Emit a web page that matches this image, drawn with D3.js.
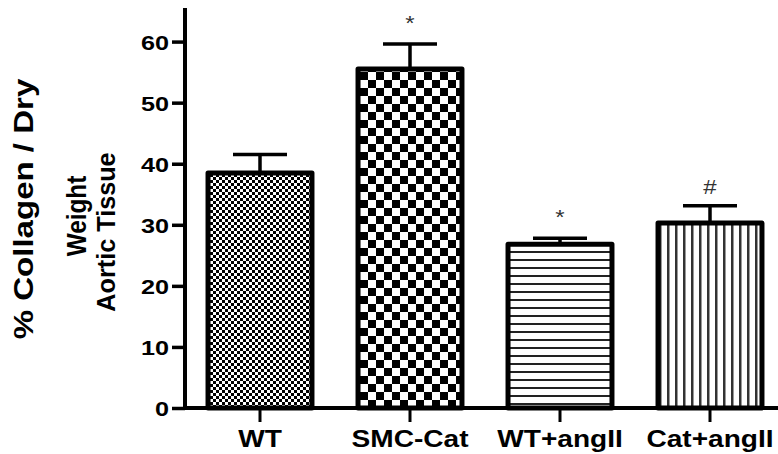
<!DOCTYPE html>
<html>
<head>
<meta charset="utf-8">
<script src="https://cdn.jsdelivr.net/npm/d3@7"></script>
<style>
	body { margin: 0; background: #fff; }
	svg { display: block; }
	text { font-family: "Liberation Sans", Arial, sans-serif; }
</style>
</head>
<body>
<svg id="chart" width="778" height="454"></svg>
<script>
"use strict";

// values
var groups = ["WT", "SMC-Cat", "WT+angII", "Cat+angII"];
var means  = [38.5, 55.5, 26.8, 30.3];
var errs   = [3.0, 4.1, 1.0, 2.8];
var marks  = ["", "*", "*", "#"];
var fills  = ["url(#fineCheck)", "url(#bigCheck)", "url(#hLines)", "url(#vLines)"];
var yTicks = [0, 10, 20, 30, 40, 50, 60];
var yLabel = ["% Collagen / Dry", "Weight", "Aortic Tissue"];

var svg = d3.select("#chart");

// patterns for the bars
var defs = svg.append("defs");
function checker(id, cell) {
	let p = defs.append("pattern")
		.attr("id", id)
		.attr("patternUnits", "userSpaceOnUse")
		.attr("width", cell * 2)
		.attr("height", cell * 2);
	p.append("rect").attr("width", cell * 2).attr("height", cell * 2).attr("fill", "#fff");
	p.append("rect").attr("width", cell).attr("height", cell).attr("fill", "#000");
	p.append("rect").attr("x", cell).attr("y", cell).attr("width", cell).attr("height", cell).attr("fill", "#000");
}
checker("fineCheck", 3);
checker("bigCheck", 8);

let hl = defs.append("pattern")
	.attr("id", "hLines")
	.attr("patternUnits", "userSpaceOnUse")
	.attr("width", 8).attr("height", 8);
hl.append("rect").attr("width", 8).attr("height", 8).attr("fill", "#fff");
hl.append("rect").attr("y", 3).attr("width", 8).attr("height", 2).attr("fill", "#222");

let vl = defs.append("pattern")
	.attr("id", "vLines")
	.attr("patternUnits", "userSpaceOnUse")
	.attr("width", 8).attr("height", 8);
vl.append("rect").attr("width", 8).attr("height", 8).attr("fill", "#fff");
vl.append("rect").attr("x", 3).attr("width", 2.5).attr("height", 8).attr("fill", "#333");

// scales
var x = d3.scaleBand()
	.domain(groups)
	.range([185, 785])
	.paddingInner(0.307)
	.paddingOuter(0.1535);
var y = d3.scaleLinear()
	.domain([0, 65.5])
	.range([408, 8]);

// bars
svg.append("g").selectAll("rect")
	.data(groups)
	.enter()
	.append("rect")
	.attr("x", d=>x(d))
	.attr("y", (d, i)=>y(means[i]))
	.attr("width", x.bandwidth())
	.attr("height", (d, i)=>y(0) - y(means[i]))
	.attr("fill", (d, i)=>fills[i])
	.attr("stroke", "#000")
	.attr("stroke-width", 5)
	.attr("stroke-linejoin", "round");

// error bars (upper only)
var eb = svg.append("g").attr("stroke", "#000").attr("stroke-width", 3.5);
groups.forEach((g, i)=>{
	let cx = x(g) + x.bandwidth() / 2;
	eb.append("line")
		.attr("x1", cx).attr("x2", cx)
		.attr("y1", y(means[i])).attr("y2", y(means[i] + errs[i]));
	eb.append("line")
		.attr("x1", cx - 27).attr("x2", cx + 27)
		.attr("y1", y(means[i] + errs[i])).attr("y2", y(means[i] + errs[i]));
});

// significance marks
svg.append("g").selectAll("text")
	.data(groups)
	.enter()
	.append("text")
	.attr("transform", (d, i)=>`translate(${x(d) + x.bandwidth() / 2},${y(means[i] + errs[i]) - (marks[i] == "#" ? 12 : 14)}) scale(1.2,1)`)
	.attr("text-anchor", "middle")
	.attr("font-size", 20)
	.attr("fill", "#333")
	.text((d, i)=>marks[i]);

// axes
var yaxis = d3.axisLeft(y).tickValues(yTicks).tickSize(13).tickPadding(0).tickSizeOuter(0);
var gy = svg.append("g")
	.attr("transform", "translate(185,0)")
	.call(yaxis);
gy.select(".domain").attr("stroke-width", 4).attr("d", `M0,${y(65.5)}V${y(0) + 2}`);
gy.selectAll(".tick line").attr("stroke-width", 3.5);
gy.selectAll(".tick text")
	.attr("font-size", 21)
	.attr("font-weight", "bold")
	.attr("fill", "#000")
	.attr("x", 0)
	.attr("dy", "0.36em")
	.attr("transform", "translate(-16,0) scale(1.2,1)");

var xaxis = d3.axisBottom(x).tickSize(14).tickSizeOuter(0).tickPadding(0);
var gx = svg.append("g")
	.attr("transform", "translate(0,408)")
	.call(xaxis);
gx.select(".domain").attr("stroke-width", 4).attr("d", "M183,0H785");
gx.selectAll(".tick line").attr("stroke-width", 3);
gx.selectAll(".tick text")
	.attr("font-size", 24)
	.attr("font-weight", "bold")
	.attr("fill", "#000")
	.attr("y", 0)
	.attr("dy", 0)
	.attr("transform", "translate(0,39) scale(1.17,1)");

// y axis title, three lines
var labelPos  = [[33, 209], [86, 216], [115, 232]];
var labelSize = [28, 27, 26];
var labelWide = [1.18, 0.9, 0.97];
svg.append("g").selectAll("text")
	.data(yLabel)
	.enter()
	.append("text")
	.attr("transform", (d, i)=>`translate(${labelPos[i][0]},${labelPos[i][1]}) rotate(-90) scale(${labelWide[i]},1)`)
	.attr("text-anchor", "middle")
	.attr("font-size", (d, i)=>labelSize[i])
	.attr("font-weight", "bold")
	.attr("fill", "#000")
	.text(d=>d);
</script>
</body>
</html>
